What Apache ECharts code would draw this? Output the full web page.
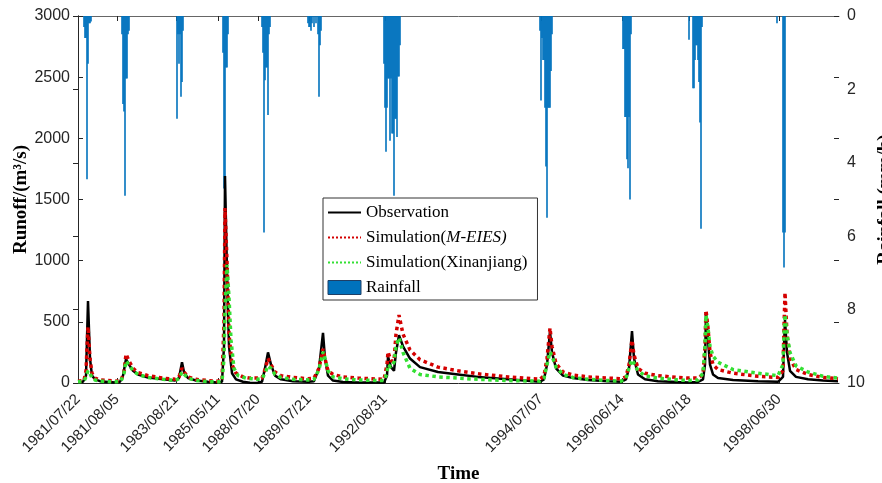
<!DOCTYPE html>
<html>
<head>
<meta charset="utf-8">
<script src="https://cdn.jsdelivr.net/npm/echarts@6/dist/echarts.min.js"></script>
<style>html,body{margin:0;padding:0;background:#fff}#c{width:882px;height:483px}</style>
</head>
<body>
<div id="c"></div>
<script>
// time index (hours, events concatenated) of each flood event start
const eventStart = [0, 39, 98, 140, 180, 231, 307, 463, 544, 611, 701];
const eventLabels = ['1981/07/22','1981/08/05','1983/08/21','1985/05/11','1988/07/20','1989/07/21','1992/08/31','1994/07/07','1996/06/14','1996/06/18','1998/06/30'];
const xMax = 761;

// observed runoff [t, m3/s]
const obsData = [
[0,8],[5,10],[8,60],[10,670],[12,200],[14,60],[17,30],[22,15],[30,8],[38,5],
[39,5],[42,10],[45,60],[48,196],[51,150],[55,100],[60,70],[70,45],[85,30],[97,20],
[98,15],[101,40],[104,170],[106,90],[110,40],[118,20],[130,10],[139,5],
[140,3],[144,10],[146,300],[147,1692],[149,900],[151,300],[154,80],[158,30],[165,10],[172,2],[179,0],
[180,0],[184,10],[187,120],[190,250],[193,150],[197,60],[203,30],[215,15],[230,10],
[231,8],[236,15],[241,120],[245,410],[247,200],[250,60],[255,20],[265,8],[280,5],[306,5],
[307,5],[309,60],[310,215],[313,130],[316,100],[318,250],[321,390],[325,300],[332,200],[342,130],[360,90],[380,70],[400,50],[430,30],[462,10],
[463,10],[466,30],[469,150],[472,420],[474,250],[478,120],[485,60],[495,40],[510,25],[530,15],[543,10],
[544,10],[548,30],[551,120],[554,425],[556,200],[560,70],[567,30],[580,15],[600,8],[610,5],
[611,5],[620,8],[625,30],[627,150],[628,580],[630,350],[632,150],[635,70],[640,40],[655,25],[680,15],[700,10],
[701,10],[705,50],[706,300],[707,515],[709,250],[712,100],[718,50],[730,30],[745,20],[760,15]
];
// simulated runoff, M-EIES model
const meiesData = [
[0,15],[6,20],[8,100],[10,460],[12,200],[14,80],[17,40],[22,25],[30,20],[38,15],
[39,15],[43,20],[46,90],[48,237],[51,180],[55,120],[60,85],[70,60],[85,40],[97,30],
[98,25],[101,50],[104,123],[106,90],[110,50],[118,30],[130,20],[139,15],
[140,10],[144,20],[146,500],[147,1430],[149,1000],[151,400],[154,150],[158,80],[165,50],[172,40],[179,40],
[180,40],[184,40],[187,110],[190,200],[193,150],[197,90],[203,60],[215,45],[230,35],
[231,35],[236,40],[241,120],[245,280],[247,200],[250,100],[255,70],[265,50],[280,40],[306,30],
[307,30],[309,150],[310,255],[313,180],[316,180],[318,400],[321,555],[325,400],[332,270],[342,190],[360,130],[380,100],[400,75],[430,50],[462,30],
[463,30],[466,60],[469,200],[472,450],[474,300],[478,160],[485,90],[495,65],[510,50],[530,40],[543,35],
[544,30],[548,50],[551,150],[554,350],[556,230],[560,120],[567,80],[580,60],[600,45],[610,40],
[611,40],[620,40],[625,70],[627,300],[628,595],[630,450],[632,250],[635,150],[640,110],[655,80],[680,55],[700,45],
[701,40],[705,100],[706,450],[707,740],[709,400],[712,200],[718,110],[730,70],[745,45],[760,35]
];
// simulated runoff, Xinanjiang model
const xajData = [
[0,10],[6,15],[8,50],[10,100],[12,80],[14,40],[17,25],[22,15],[30,12],[38,10],
[39,10],[43,15],[46,80],[48,180],[51,150],[55,100],[60,70],[70,45],[85,30],[97,20],
[98,15],[101,35],[104,90],[106,75],[110,40],[118,20],[130,12],[139,8],
[140,5],[144,15],[146,200],[147,600],[149,965],[151,700],[153,350],[156,120],[160,60],[168,40],[179,30],
[180,30],[184,35],[187,80],[190,140],[193,120],[197,70],[203,45],[215,30],[230,25],
[231,25],[236,30],[241,110],[245,255],[247,200],[250,100],[255,50],[265,35],[280,25],[306,20],
[307,20],[309,80],[310,150],[313,130],[316,170],[318,300],[321,370],[325,250],[332,120],[342,70],[360,50],[380,40],[400,30],[430,20],[462,15],
[463,15],[466,40],[469,150],[472,255],[474,220],[478,130],[485,70],[495,45],[510,30],[530,20],[543,15],
[544,15],[548,40],[551,120],[554,190],[556,160],[560,100],[567,60],[580,40],[600,25],[610,20],
[611,20],[620,25],[625,80],[627,300],[628,555],[630,450],[632,300],[635,220],[640,170],[655,110],[680,80],[700,60],
[701,50],[705,150],[706,400],[707,560],[709,400],[712,250],[718,140],[730,90],[745,55],[760,40]
];
// rainfall [t, mm/h]
const rainData = [
[6,0.3],[7,0.6],[8,0.6],[9,4.45],[10,1.3],[11,0.2],[12,0.2],[13,0.15],
[44,0.5],[45,2.4],[46,2.6],[47,4.9],[48,1.7],[49,1.7],[50,0.5],[51,0.4],
[99,2.8],[100,0.5],[101,1.3],[102,0.5],[103,2.2],[104,1.8],[105,0.4],
[145,1.0],[146,4.7],[147,4.5],[148,1.4],[149,1.4],[150,0.5],
[184,0.3],[185,1.0],[186,5.9],[187,1.75],[188,1.4],[189,1.4],[190,2.7],[191,0.5],[192,0.3],
[230,0.2],[231,0.3],[232,0.3],[233,0.4],[234,0.2],[236,0.3],[238,0.2],[240,0.5],[241,2.2],[242,0.8],[243,0.4],
[306,1.3],[307,2.5],[308,3.7],[309,2.5],[310,1.7],[311,1.7],[312,3.4],[313,1.7],[314,3.2],[315,3.2],[316,4.9],[317,2.8],[318,2.8],[319,3.3],[320,1.65],[321,1.65],[322,0.8],
[462,0.4],[463,2.3],[464,0.6],[465,1.2],[466,1.2],[467,2.5],[468,4.1],[469,5.5],[470,2.5],[471,2.5],[472,2.5],[473,1.5],[474,0.5],
[545,0.9],[546,0.9],[547,2.75],[548,2.75],[549,3.9],[550,4.15],[551,2.75],[552,5.0],[553,0.5],
[611,0.65],[615,1.97],[616,1.97],[617,1.2],[618,0.8],[619,0.8],[620,1.2],[621,1.8],[622,2.9],[623,5.8],[624,0.3],
[699,0.2],[705,5.9],[706,6.85],[707,5.9]
];

const axisCol = '#262626';
const sans = 'Liberation Sans';
const serif = 'Liberation Serif';
const plain = function (v) { return String(v); };
const hideSym = {opacity: 0};
const chart = echarts.init(document.getElementById('c'), null, {renderer: 'canvas'});
chart.setOption({
  animation: false,
  backgroundColor: '#fff',
  grid: {left: 78, right: 43, top: 16, bottom: 100, containLabel: false, outerBoundsMode: 'none'},
  legend: {
    orient: 'vertical', left: 323, top: 198,
    padding: [6, 10, 4, 4], itemGap: 8, itemWidth: 33, itemHeight: 14,
    backgroundColor: '#fff', borderColor: '#333', borderWidth: 1,
    textStyle: {fontFamily: serif, fontSize: 17, color: '#000',
      rich: {i: {fontFamily: serif, fontSize: 17, fontStyle: 'italic', color: '#000'}}},
    formatter: function (n) {
      if (n === 'Simulation(M-EIES)') return 'Simulation({i|M-EIES)}';
      return n;
    },
    data: [
      {name: 'Observation', itemStyle: hideSym},
      {name: 'Simulation(M-EIES)', itemStyle: hideSym},
      {name: 'Simulation(Xinanjiang)', itemStyle: hideSym},
      {name: 'Rainfall', icon: 'rect', itemStyle: {borderColor: '#1f3f66', borderWidth: 1}}
    ]
  },
  xAxis: [{
    type: 'value', min: 0, max: xMax, position: 'bottom',
    name: 'Time', nameLocation: 'middle', nameGap: 82,
    nameTextStyle: {fontFamily: serif, fontWeight: 'bold', fontSize: 19, color: '#000'},
    axisLine: {show: true, lineStyle: {color: axisCol, width: 1}},
    axisTick: {show: true, inside: true, length: 5, customValues: eventStart, lineStyle: {color: axisCol}},
    axisLabel: {show: true, customValues: eventStart, rotate: 45, margin: 14,
      fontFamily: sans, fontSize: 15, color: axisCol,
      formatter: function (v) { const i = eventStart.indexOf(v); return i >= 0 ? eventLabels[i] : ''; }},
    splitLine: {show: false}
  }, {
    type: 'value', min: 0, max: xMax, position: 'top',
    axisLine: {show: true, lineStyle: {color: '#666', width: 1}},
    axisTick: {show: true, inside: true, length: 5, customValues: eventStart, lineStyle: {color: axisCol}},
    axisLabel: {show: false},
    splitLine: {show: false}
  }],
  yAxis: [{
    type: 'value', min: 0, max: 3000, interval: 500, position: 'left',
    name: 'Runoff/(m³/s)', nameLocation: 'middle', nameGap: 47, nameMoveOverlap: false,
    nameTextStyle: {fontFamily: serif, fontWeight: 'bold', fontSize: 19, color: '#000'},
    axisLine: {show: true, lineStyle: {color: axisCol}},
    axisTick: {show: true, inside: true, length: 5, lineStyle: {color: axisCol}},
    axisLabel: {fontFamily: sans, fontSize: 16, color: axisCol, margin: 8, formatter: plain},
    splitLine: {show: false}
  }, {
    type: 'value', min: 0, max: 10, interval: 2, inverse: true, position: 'right',
    name: 'Rainfall (mm/h)', nameLocation: 'middle', nameGap: 36,
    nameTextStyle: {fontFamily: serif, fontWeight: 'bold', fontSize: 19, color: '#000'},
    axisLine: {show: true, lineStyle: {color: axisCol}},
    axisTick: {show: true, inside: true, length: 5, lineStyle: {color: axisCol}},
    axisLabel: {fontFamily: sans, fontSize: 16, color: axisCol, margin: 8, formatter: plain},
    splitLine: {show: false}
  }, {
    type: 'value', min: 0, max: 3000, interval: 500, position: 'right',
    axisLine: {show: false},
    axisTick: {show: true, inside: true, length: 5, lineStyle: {color: axisCol}},
    axisLabel: {show: false},
    splitLine: {show: false}
  }],
  series: [{
    name: 'Rainfall', type: 'bar', xAxisIndex: 0, yAxisIndex: 1,
    data: rainData, barWidth: 1.6,
    itemStyle: {color: '#0072BD'}
  }, {
    name: 'Observation', type: 'line', xAxisIndex: 0, yAxisIndex: 0,
    data: obsData, symbol: 'none', showSymbol: false,
    lineStyle: {color: '#000', width: 2.5}, itemStyle: {color: '#000'}
  }, {
    name: 'Simulation(M-EIES)', type: 'line', xAxisIndex: 0, yAxisIndex: 0,
    data: meiesData, symbol: 'none', showSymbol: false,
    lineStyle: {color: '#d40000', width: 3.5, type: 'dotted'}, itemStyle: {color: '#d40000'}
  }, {
    name: 'Simulation(Xinanjiang)', type: 'line', xAxisIndex: 0, yAxisIndex: 0,
    data: xajData, symbol: 'none', showSymbol: false,
    lineStyle: {color: '#33e033', width: 3.5, type: 'dotted'}, itemStyle: {color: '#33e033'}
  }]
});
</script>
</body>
</html>
